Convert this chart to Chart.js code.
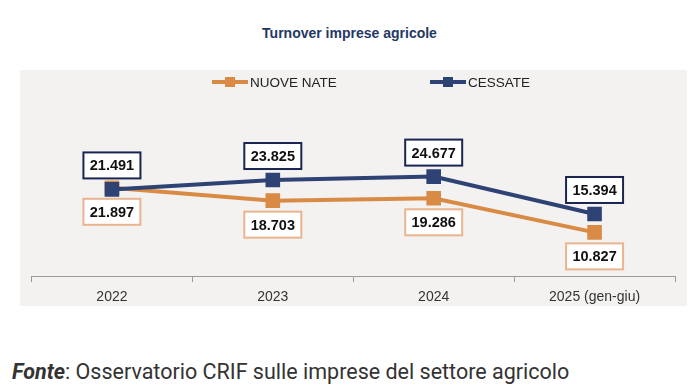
<!DOCTYPE html>
<html>
<head>
<meta charset="utf-8">
<script src="https://cdn.jsdelivr.net/npm/chart.js@4.4.1/dist/chart.umd.min.js"></script>
<style>
  body { margin: 0; background: #fff; width: 699px; height: 390px; position: relative; overflow: hidden; }
  .title { position: absolute; left: 0; top: 25px; width: 699px; text-align: center;
    font: bold 14px "Liberation Sans", sans-serif; color: #1f3864; }
  .panel { position: absolute; left: 20px; top: 70px; width: 667px; height: 236px; background: #f3f2f1; }
  .panel canvas { position: absolute; left: 0; top: 0; }
  .fonte { position: absolute; left: 12px; top: 359px; font: 21.5px Roboto, sans-serif; color: #333; white-space: nowrap; }
</style>
</head>
<body>
<div class="title">Turnover imprese agricole</div>
<div class="panel"><canvas id="turnover" width="667" height="242"></canvas></div>
<div class="fonte"><b><i>Fonte</i></b>: Osservatorio CRIF sulle imprese del settore agricolo</div>
<script>
const years = ['2022', '2023', '2024', '2025 (gen-giu)']
const nuoveNate = [21897, 18703, 19286, 10827]
const cessate = [21491, 23825, 24677, 15394]

const fmt = v => v.toLocaleString('de-DE')

// legend drawn on the canvas: line + square marker, then text
const legendPlugin = {
  id: 'lineLegend',
  afterDraw(chart) {
    const ctx = chart.ctx
    const items = [{ ds: 0, x: 192 }, { ds: 1, x: 410 }]
    ctx.save()
    items.forEach(it => {
      const ds = chart.data.datasets[it.ds]
      const y = 12
      ctx.strokeStyle = ds.borderColor
      ctx.lineWidth = 4
      ctx.beginPath()
      ctx.moveTo(it.x, y)
      ctx.lineTo(it.x + 36, y)
      ctx.stroke()
      ctx.fillStyle = ds.borderColor
      ctx.fillRect(it.x + 13, y - 5, 10, 10)
      ctx.fillStyle = '#222'
      ctx.font = '13.5px "Liberation Sans", sans-serif'
      ctx.textBaseline = 'middle'
      ctx.fillText(ds.label, it.x + 38, y + 1)
    })
    ctx.restore()
  }
}

// boxed value labels, above for CESSATE, below for NUOVE NATE
const boxLabels = {
  id: 'boxLabels',
  afterDatasetsDraw(chart) {
    const ctx = chart.ctx
    ctx.save()
    ctx.font = 'bold 14.5px "Liberation Sans", sans-serif'
    ctx.textAlign = 'center'
    ctx.textBaseline = 'middle'
    chart.data.datasets.forEach((ds, i) => {
      const meta = chart.getDatasetMeta(i)
      meta.data.forEach((pt, j) => {
        const cy = pt.y + (ds.labelPos === 'above' ? -24 : 24)
        const w = 57, h = 26
        ctx.fillStyle = '#fff'
        ctx.fillRect(pt.x - w / 2, cy - h / 2, w, h)
        ctx.strokeStyle = ds.boxColor
        ctx.lineWidth = 2
        ctx.strokeRect(pt.x - w / 2, cy - h / 2, w, h)
        ctx.fillStyle = '#111'
        ctx.fillText(fmt(ds.data[j]), pt.x, cy + 1)
      })
    })
    ctx.restore()
  }
}

new Chart(document.getElementById('turnover'), {
  type: 'line',
  data: {
    labels: years,
    datasets: [{
      label: 'NUOVE NATE',
      data: nuoveNate,
      borderColor: '#d98b46',
      backgroundColor: '#d98b46',
      boxColor: '#e9b48e',
      labelPos: 'below',
      borderWidth: 4,
      pointStyle: 'rect',
      pointRadius: 7.5,
      order: 1
    }, {
      label: 'CESSATE',
      data: cessate,
      borderColor: '#2e4374',
      backgroundColor: '#2e4374',
      boxColor: '#1b2552',
      labelPos: 'above',
      borderWidth: 4,
      pointStyle: 'rect',
      pointRadius: 7.5,
      order: 0
    }]
  },
  options: {
    responsive: false,
    animation: false,
    layout: { padding: { left: 11, right: 12, top: 65, bottom: 0 } },
    plugins: { legend: { display: false }, tooltip: { enabled: false } },
    scales: {
      x: {
        offset: true,
        grid: { offset: true, drawOnChartArea: false, tickLength: 6, color: '#9a9a9a' },
        border: { color: '#9a9a9a', width: 1 },
        ticks: { color: '#333', font: { family: 'Liberation Sans', size: 14, lineHeight: 1 }, padding: 8 }
      },
      y: { display: false, min: 0, max: 35000 }
    }
  },
  plugins: [legendPlugin, boxLabels]
})
</script>
</body>
</html>
